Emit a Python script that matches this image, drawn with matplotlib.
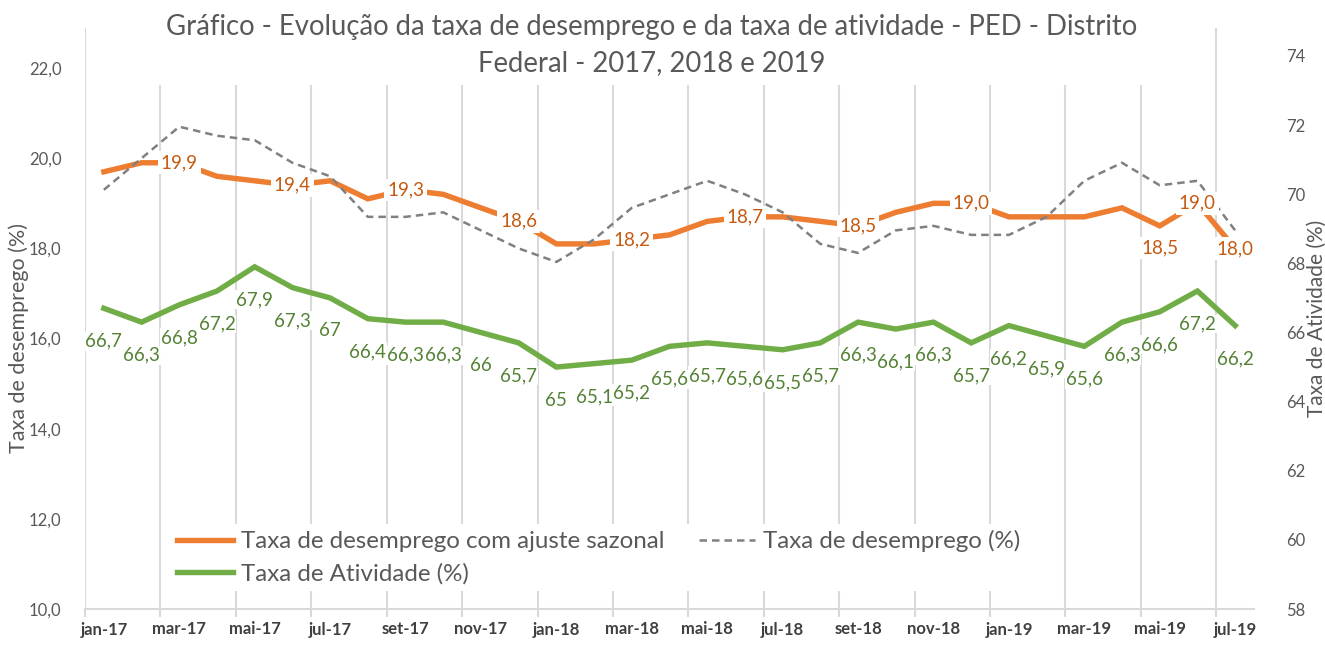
import numpy as np
import matplotlib.pyplot as plt

plt.rcParams['font.family'] = ['Lato', 'DejaVu Sans']

meses = ['jan-17', 'fev-17', 'mar-17', 'abr-17', 'mai-17', 'jun-17', 'jul-17', 'ago-17',
         'set-17', 'out-17', 'nov-17', 'dez-17', 'jan-18', 'fev-18', 'mar-18', 'abr-18',
         'mai-18', 'jun-18', 'jul-18', 'ago-18', 'set-18', 'out-18', 'nov-18', 'dez-18',
         'jan-19', 'fev-19', 'mar-19', 'abr-19', 'mai-19', 'jun-19', 'jul-19']

# taxa de desemprego com ajuste sazonal (eixo esquerdo)
desemp_ajust = [19.7, 19.9, 19.9, 19.6, 19.5, 19.4, 19.5, 19.1, 19.3, 19.2, 18.9, 18.6,
                18.1, 18.1, 18.2, 18.3, 18.6, 18.7, 18.7, 18.6, 18.5, 18.8, 19.0, 19.0,
                18.7, 18.7, 18.7, 18.9, 18.5, 19.0, 18.0]
# taxa de desemprego (%) sem ajuste (eixo esquerdo)
desemp = [19.3, 20.0, 20.7, 20.5, 20.4, 19.9, 19.6, 18.7, 18.7, 18.8, 18.4, 18.0,
          17.7, 18.2, 18.9, 19.2, 19.5, 19.2, 18.8, 18.1, 17.9, 18.4, 18.5, 18.3,
          18.3, 18.7, 19.5, 19.9, 19.4, 19.5, 18.4]
# taxa de atividade (%) (eixo direito)
atividade = [66.7, 66.3, 66.8, 67.2, 67.9, 67.3, 67.0, 66.4, 66.3, 66.3, 66.0, 65.7,
             65.0, 65.1, 65.2, 65.6, 65.7, 65.6, 65.5, 65.7, 66.3, 66.1, 66.3, 65.7,
             66.2, 65.9, 65.6, 66.3, 66.6, 67.2, 66.2]

# rotulos mostrados na serie com ajuste
idx_rot_ajust = [2, 5, 8, 11, 14, 17, 20, 23, 28, 29, 30]

laranja = '#ED7D31'
verde = '#70AD47'
cinza = '#808080'
txt = '#595959'

x = np.arange(len(meses))

fig = plt.figure(figsize=(13.25, 6.46), dpi=100)
ax = fig.add_axes([85/1325, 37/646, 1169/1325, 581/646])
ax2 = ax.twinx()

l1, = ax.plot(x, desemp_ajust, color=laranja, lw=3.9, zorder=3,
              label='Taxa de desemprego com ajuste sazonal', solid_joinstyle='miter')
l2, = ax.plot(x, desemp, color=cinza, lw=1.8, ls=(0, (3, 2)), zorder=4,
              label='Taxa de desemprego (%)')
l3, = ax2.plot(x, atividade, color=verde, lw=3.9, zorder=3,
               label='Taxa de Atividade (%)', solid_joinstyle='miter')

for i in idx_rot_ajust:
    dy = -22 if i == 28 else 0
    ax.annotate(f'{desemp_ajust[i]:.1f}'.replace('.', ','), (x[i], desemp_ajust[i]),
                xytext=(0, dy), textcoords='offset pixels', ha='center', va='center',
                fontsize=13.5, color='#C55A11', zorder=6,
                bbox=dict(boxstyle='square,pad=0.15', fc='white', ec='none'))

for i, v in enumerate(atividade):
    ax2.annotate(f'{v:g}'.replace('.', ','), (x[i], v), xytext=(0, -33),
                 textcoords='offset pixels', ha='center', va='center',
                 fontsize=13.5, color='#548235', zorder=6,
                 bbox=dict(boxstyle='square,pad=0.05', fc='white', ec='none'))

ax.set_xlim(-0.5, 30.5)
ax.set_ylim(10, 22.89)
ax2.set_ylim(58, 74.81)

ax.set_yticks(np.arange(10, 23, 2))
ax.set_yticklabels([f'{v:.1f}'.replace('.', ',') for v in np.arange(10, 23, 2)])
ax2.set_yticks(np.arange(58, 75, 2))

ax.set_xticks(x[::2])
ax.set_xticklabels(meses[::2], fontweight='bold', color='#404040', fontsize=12)
ax.set_xticks(np.arange(-0.5, 30, 2), minor=True)
ax.grid(True, which='minor', axis='x', color='#D9D9D9', lw=1.5, zorder=0)
ax.tick_params(axis='x', which='major', length=0, pad=9)
ax.tick_params(axis='x', which='minor', length=6, color='#D9D9D9', width=1.5)
ax.tick_params(axis='y', length=0, labelsize=12, labelcolor=txt, pad=17)
ax2.tick_params(axis='y', length=0, labelsize=12, labelcolor=txt, pad=23)

for a in (ax, ax2):
    for s in a.spines.values():
        s.set_visible(False)
ax.spines['bottom'].set_visible(True)
ax.spines['bottom'].set_color('#D9D9D9')
ax.spines['bottom'].set_linewidth(1.5)

ax.set_ylabel('Taxa de desemprego (%)', fontsize=15.5, color=txt)
ax.yaxis.set_label_coords(-0.048, 0.466)
ax2.set_ylabel('Taxa de Atividade (%)', fontsize=15, color=txt, labelpad=1)

leg = fig.legend(handles=[l1, l3, l2], ncol=2, loc='upper left',
                 bbox_to_anchor=(159/1325, 1 - 512/646), frameon=True,
                 fontsize=17.4, handlelength=2.3, handletextpad=0.33,
                 columnspacing=1.45, labelspacing=0.45, borderpad=0.25)
leg.get_frame().set_facecolor('white')
leg.get_frame().set_edgecolor('none')
leg.get_frame().set_alpha(1)
for t in leg.get_texts():
    t.set_color(txt)

fig.text(0.492, 1 - 45/646,
         'Gráfico - Evolução da taxa de desemprego e da taxa de atividade - PED - Distrito\n'
         'Federal - 2017, 2018 e 2019',
         ha='center', va='center', fontsize=19.8, color=txt, linespacing=1.5,
         bbox=dict(boxstyle='square,pad=0.3', fc='white', ec='none'))

fig.savefig('out.png', dpi=100)
